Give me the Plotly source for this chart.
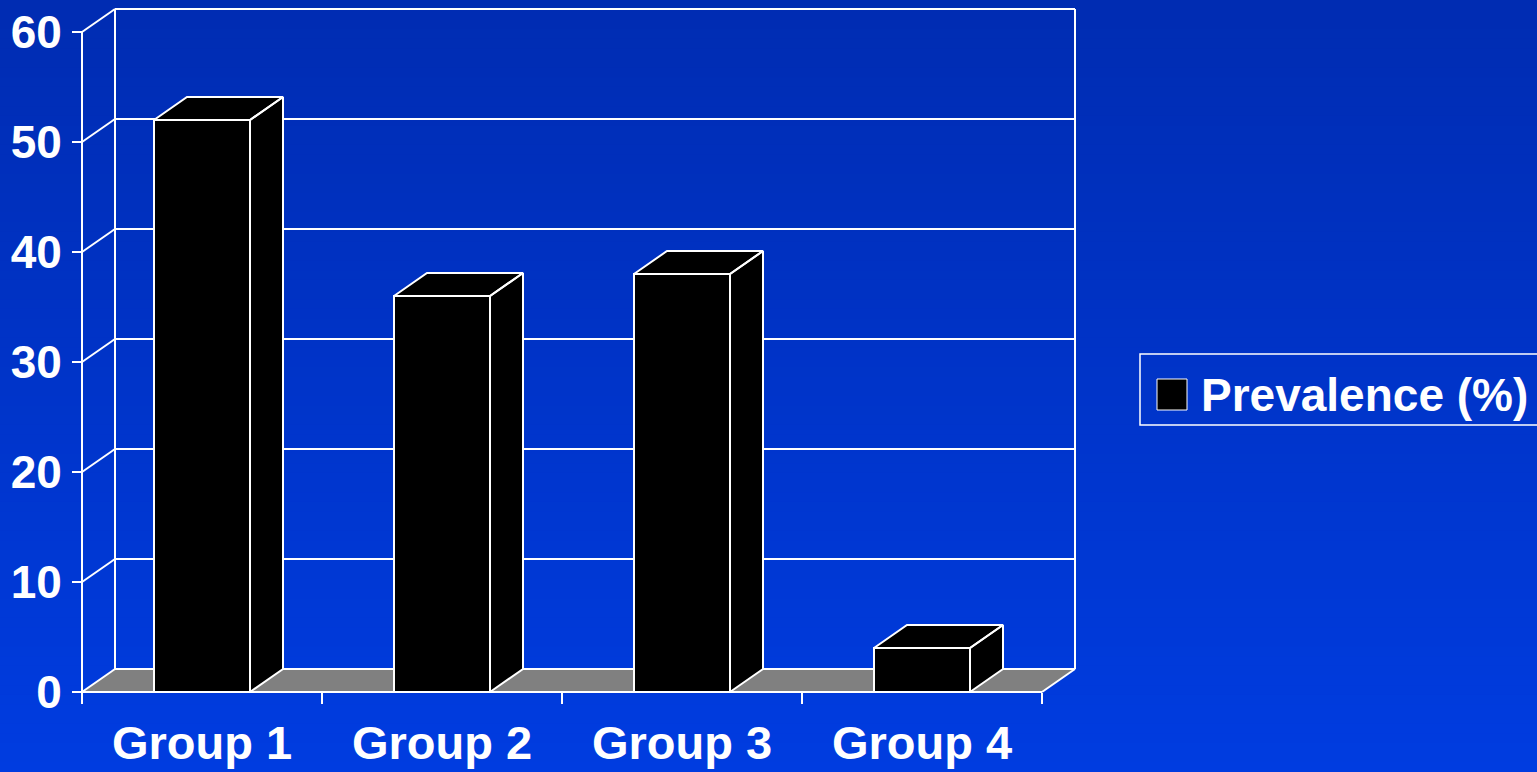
import plotly.graph_objects as go

# ---- data ----
categories = ["Group 1", "Group 2", "Group 3", "Group 4"]
prevalence = [52, 36, 38, 4]
y_ticks = [0, 10, 20, 30, 40, 50, 60]
series_name = "Prevalence (%)"

W, H = 1537, 772
FONT = "Arial, Liberation Sans, sans-serif"

# pixel geometry (y=0 at px 692, 11 px per unit; category width 240 px, x=-0.5 at px 82)
X_LEFT_PX, CAT_PX = 82, 240
Y0_PX, UNIT_PX = 692, 11
x_range = [-0.5 - X_LEFT_PX / CAT_PX, -0.5 + (W - X_LEFT_PX) / CAT_PX]
y_range = [-(H - Y0_PX) / UNIT_PX, Y0_PX / UNIT_PX]
DX = 33 / CAT_PX
DY = 23 / UNIT_PX
BW = 0.4
xs = list(range(len(categories)))
x_lo, x_hi = -0.5, len(categories) - 0.5
y_top = max(y_ticks)

shapes = []
# background gradient
N = 80
c_top, c_bot = (0, 44, 178), (0, 60, 224)
for i in range(N):
    t = i / (N - 1)
    c = tuple(round(a + (b - a) * t) for a, b in zip(c_top, c_bot))
    shapes.append(dict(type="rect", xref="paper", yref="paper", x0=0, x1=1,
                       y0=1 - (i + 1) / N - 0.001, y1=1 - i / N,
                       fillcolor="rgb(%d,%d,%d)" % c, line_width=0, layer="below"))

LW = dict(color="white", width=2)
# floor
shapes.append(dict(type="path", xref="x", yref="y", layer="below",
                   path=f"M{x_lo},0 L{x_hi},0 L{x_hi+DX},{DY} L{x_lo+DX},{DY} Z",
                   fillcolor="#808080", line_width=0))
# back wall grid lines
for v in y_ticks:
    shapes.append(dict(type="line", xref="x", yref="y", layer="below",
                       x0=x_lo + DX, x1=x_hi + DX, y0=v + DY, y1=v + DY, line=LW))
    # left wall diagonals
    shapes.append(dict(type="line", xref="x", yref="y", layer="below",
                       x0=x_lo, x1=x_lo + DX, y0=v, y1=v + DY, line=LW))
# back wall verticals
for xx in (x_lo + DX, x_hi + DX):
    shapes.append(dict(type="line", xref="x", yref="y", layer="below",
                       x0=xx, x1=xx, y0=DY, y1=y_top + DY, line=LW))
# front left axis line (down to tick end)
shapes.append(dict(type="line", xref="x", yref="y", layer="below",
                   x0=x_lo, x1=x_lo, y0=-1, y1=y_top, line=LW))
# floor front edge and right diagonal
shapes.append(dict(type="line", xref="x", yref="y", layer="below",
                   x0=x_lo, x1=x_hi, y0=0, y1=0, line=LW))
shapes.append(dict(type="line", xref="x", yref="y", layer="below",
                   x0=x_hi, x1=x_hi + DX, y0=0, y1=DY, line=LW))

# legend (manual)
def px(xp): return xp / W
def py(yp): return 1 - yp / H
shapes.append(dict(type="rect", xref="paper", yref="paper", x0=px(1140), x1=px(1560),
                   y0=py(425), y1=py(354), line=dict(color="white", width=1.5),
                   fillcolor="rgba(0,0,0,0)"))
shapes.append(dict(type="rect", xref="paper", yref="paper", x0=px(1157), x1=px(1187),
                   y0=py(410), y1=py(379), line=dict(color="white", width=1),
                   fillcolor="black"))

fig = go.Figure()
fig.add_trace(go.Bar(x=xs, y=prevalence, width=BW, name=series_name,
                     marker=dict(color="black", line=dict(color="white", width=2)),
                     showlegend=False))

# 3D top and side faces
fx, fy = [], []
for x, v in zip(xs, prevalence):
    x0, x1 = x - BW / 2, x + BW / 2
    fx += [x1, x1 + DX, x1 + DX, x1, x1, None]
    fy += [0, DY, v + DY, v, 0, None]
    fx += [x0, x1, x1 + DX, x0 + DX, x0, None]
    fy += [v, v, v + DY, v + DY, v, None]
fig.add_trace(go.Scatter(x=fx, y=fy, mode="lines", fill="toself", fillcolor="black",
                         line=dict(color="white", width=2), showlegend=False,
                         hoverinfo="skip"))

fig.add_annotation(xref="paper", yref="paper", x=px(1199), y=py(395),
                   xanchor="left", yanchor="middle", showarrow=False,
                   text=series_name, font=dict(family=FONT, size=46, color="white",
                                               weight="bold"))

fig.update_layout(
    width=W, height=H, margin=dict(l=0, r=0, t=0, b=0),
    paper_bgcolor="#0034C8", plot_bgcolor="rgba(0,0,0,0)",
    shapes=shapes, showlegend=False, bargap=0,
    xaxis=dict(range=x_range, domain=[0, 1], anchor="free", position=(H - Y0_PX) / H,
               showgrid=False, zeroline=False, showline=False,
               tickvals=xs, ticktext=categories, ticks="",
               tickfont=dict(family=FONT, size=47, color="white", weight="bold"),
               ticklabelstandoff=19,
               minor=dict(tickvals=[x - 0.5 for x in xs] + [x_hi], ticks="outside",
                          ticklen=11, tickwidth=2, tickcolor="white", showgrid=False)),
    yaxis=dict(range=y_range, domain=[0, 1], anchor="free", position=X_LEFT_PX / W,
               showgrid=False, zeroline=False, showline=False,
               tickvals=y_ticks, ticks="outside", ticklen=10, tickwidth=2,
               tickcolor="white", ticklabelstandoff=1,
               tickfont=dict(family=FONT, size=46, color="white", weight="bold")),
)

fig.write_html("out.html")
